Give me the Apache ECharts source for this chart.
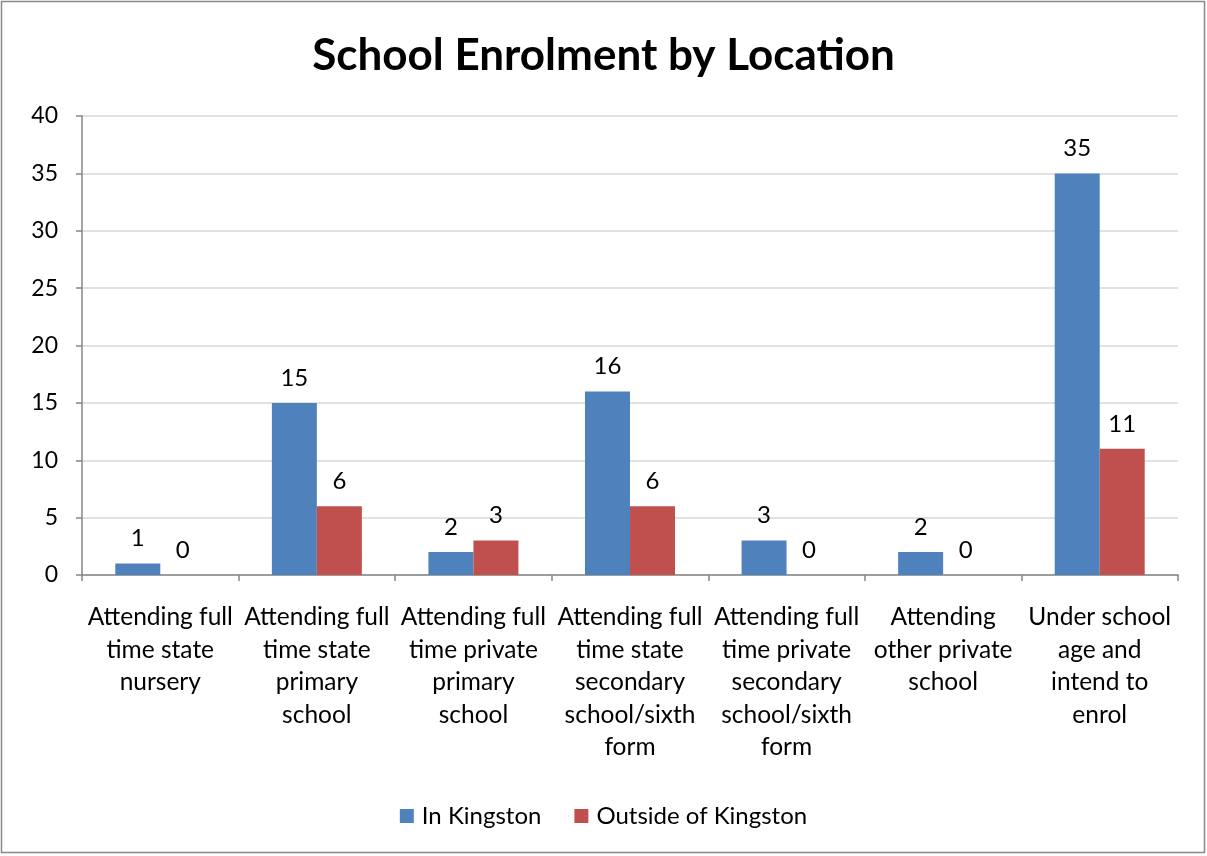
<!DOCTYPE html>
<html>
<head>
<meta charset="utf-8">
<script src="https://cdn.jsdelivr.net/npm/echarts@6/dist/echarts.min.js"></script>
<style>
html,body{margin:0;padding:0;background:#fff;}
#chart{width:1207px;height:856px;}
</style>
</head>
<body>
<div id="chart"></div>
<script>
const categories = [
  "Attending full\ntime state\nnursery",
  "Attending full\ntime state\nprimary\nschool",
  "Attending full\ntime private\nprimary\nschool",
  "Attending full\ntime state\nsecondary\nschool/sixth\nform",
  "Attending full\ntime private\nsecondary\nschool/sixth\nform",
  "Attending\nother private\nschool",
  "Under school\nage and\nintend to\nenrol"
];
const inKingston = [1, 15, 2, 16, 3, 2, 35];
const outsideKingston = [0, 6, 3, 6, 0, 0, 11];
const seriesNames = ["In Kingston", "Outside of Kingston"];
const titleText = "School Enrolment by Location";

const FONT = "Lato, 'Open Sans', sans-serif";
const chart = echarts.init(document.getElementById('chart'));
const labelStyle = {show: true, position: 'top', distance: 13, color: '#000', fontSize: 24, fontFamily: FONT};
chart.setOption({
  animation: false,
  backgroundColor: '#fff',
  title: {
    text: titleText, left: 'center', top: 29,
    textStyle: {fontFamily: FONT, fontWeight: 'bold', fontSize: 44, color: '#000'}
  },
  legend: {
    bottom: 23, left: 'center', itemWidth: 14, itemHeight: 14, itemGap: 33,
    icon: 'rect',
    textStyle: {fontFamily: FONT, fontSize: 24, color: '#000', padding: [0, 0, 0, 3]},
    data: seriesNames
  },
  grid: {left: 82, right: 29, top: 116, bottom: 281},
  xAxis: {
    type: 'category', data: categories,
    axisLine: {lineStyle: {color: '#868686', width: 1.5}},
    axisTick: {show: true, length: 6, alignWithLabel: false, lineStyle: {color: '#868686', width: 1.5}},
    axisLabel: {interval: 0, margin: 26, fontFamily: FONT, fontSize: 24.5, lineHeight: 32.5, color: '#000'}
  },
  yAxis: {
    type: 'value', min: 0, max: 40, interval: 5,
    axisLine: {show: true, lineStyle: {color: '#868686', width: 1.5}},
    axisTick: {show: true, length: 6, lineStyle: {color: '#868686', width: 1.5}},
    splitLine: {show: true, lineStyle: {color: '#d9d9d9', width: 1.5}},
    axisLabel: {margin: 24, fontFamily: FONT, fontSize: 23, color: '#000'}
  },
  graphic: [{
    type: 'rect', shape: {x: 1.5, y: 1.5, width: 1203, height: 851},
    style: {fill: 'none', stroke: '#898989', lineWidth: 1.5}, silent: true, z: 100
  }],
  series: [
    {name: seriesNames[0], type: 'bar', data: inKingston, barWidth: 45, barGap: '0%',
     itemStyle: {color: '#4F81BD'}, label: labelStyle},
    {name: seriesNames[1], type: 'bar', data: outsideKingston, barWidth: 45, barGap: '0%',
     itemStyle: {color: '#C0504D'}, label: labelStyle}
  ]
});
</script>
</body>
</html>
